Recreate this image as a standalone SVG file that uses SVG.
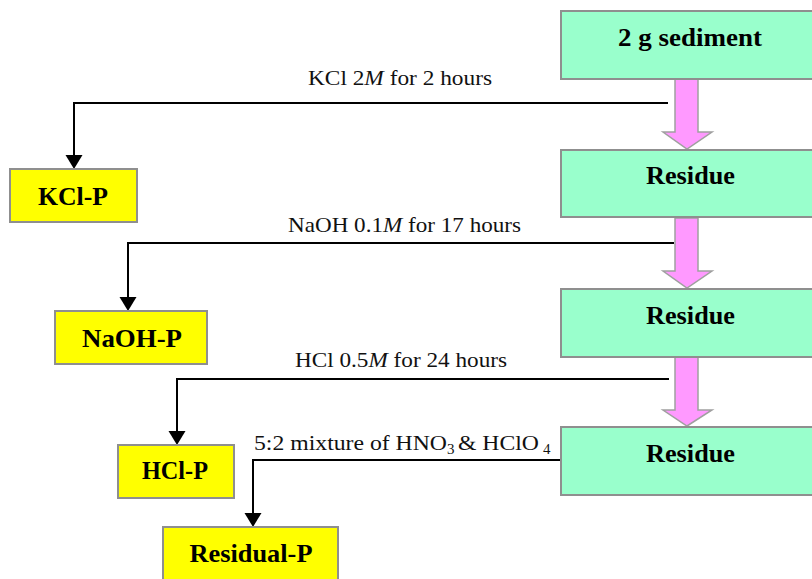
<svg xmlns="http://www.w3.org/2000/svg" width="812" height="579" viewBox="0 0 812 579">
<defs>
<style>
.g{fill:#99FFCC;stroke:#8f8f8f;stroke-width:2}
.y{fill:#FFFF00;stroke:#8f8f8f;stroke-width:2}
.pk{fill:#FF99FF;stroke:#a0a0a0;stroke-width:1.5}
.b{font-family:'Liberation Serif','Tinos','Nimbus Roman','DejaVu Serif',serif;font-weight:bold;font-size:25px;fill:#000;text-anchor:middle}
.t{font-family:'Liberation Serif','Tinos','Nimbus Roman','DejaVu Serif',serif;font-size:22px;fill:#111}
.c{fill:none;stroke:#000;stroke-width:2}
</style>
</defs>
<rect width="812" height="579" fill="#fff"/>

<g id="connectors">
<path class="c" d="M668,103 H74 V156"/>
<path d="M65.5,155 L82.5,155 L74,169 Z" fill="#000"/>
<path class="c" d="M674,243 H128 V298"/>
<path d="M119.5,297 L136.5,297 L128,311 Z" fill="#000"/>
<path class="c" d="M669,379 H177 V432"/>
<path d="M168.5,431 L185.5,431 L177,445 Z" fill="#000"/>
<path class="c" d="M561,460 H253 V514"/>
<path d="M244.5,513 L261.5,513 L253,527 Z" fill="#000"/>
<path class="pk" d="M675,79 H698 V132 H712 L687,149 L663,132 H675 Z"/>
<path class="pk" d="M675,218 H698 V271 H712 L687,288 L663,271 H675 Z"/>
<path class="pk" d="M675,357 H698 V410 H712 L687,426 L663,410 H675 Z"/>
</g>

<g id="labels">
<text class="t" x="308" y="85" textLength="184" lengthAdjust="spacingAndGlyphs">KCl 2<tspan font-style="italic">M</tspan> for 2 hours</text>
<text class="t" x="288" y="232" textLength="233" lengthAdjust="spacingAndGlyphs">NaOH 0.1<tspan font-style="italic">M</tspan> for 17 hours</text>
<text class="t" x="295" y="367" textLength="212" lengthAdjust="spacingAndGlyphs">HCl 0.5<tspan font-style="italic">M</tspan> for 24 hours</text>
<text class="t" x="254" y="450"><tspan x="254" textLength="193" lengthAdjust="spacingAndGlyphs">5:2 mixture of HNO</tspan><tspan x="447" y="454" font-size="15">3</tspan><tspan x="458" y="450" textLength="81" lengthAdjust="spacingAndGlyphs">&amp; HClO</tspan><tspan x="543" y="454" font-size="15">4</tspan></text>
</g>

<g id="n-sediment">
<rect class="g" x="561" y="11" width="270" height="68"/>
<text class="b" x="690" y="46" textLength="144" lengthAdjust="spacingAndGlyphs">2 g sediment</text>
</g>
<g id="n-residue1">
<rect class="g" x="561" y="150" width="270" height="67"/>
<text class="b" x="690.5" y="184" textLength="89" lengthAdjust="spacingAndGlyphs">Residue</text>
</g>
<g id="n-residue2">
<rect class="g" x="561" y="289" width="270" height="68"/>
<text class="b" x="690.5" y="324" textLength="89" lengthAdjust="spacingAndGlyphs">Residue</text>
</g>
<g id="n-residue3">
<rect class="g" x="561" y="427" width="270" height="68"/>
<text class="b" x="690.5" y="462" textLength="89" lengthAdjust="spacingAndGlyphs">Residue</text>
</g>
<g id="n-kclp">
<rect class="y" x="10" y="169" width="127" height="53"/>
<text class="b" x="73" y="205" textLength="70" lengthAdjust="spacingAndGlyphs">KCl-P</text>
</g>
<g id="n-naohp">
<rect class="y" x="55" y="311" width="152" height="53"/>
<text class="b" x="132" y="347" textLength="100" lengthAdjust="spacingAndGlyphs">NaOH-P</text>
</g>
<g id="n-hclp">
<rect class="y" x="118" y="445" width="116" height="53"/>
<text class="b" x="175" y="479" textLength="66" lengthAdjust="spacingAndGlyphs">HCl-P</text>
</g>
<g id="n-residualp">
<rect class="y" x="163" y="527" width="175" height="60"/>
<text class="b" x="251" y="562" textLength="123" lengthAdjust="spacingAndGlyphs">Residual-P</text>
</g>
</svg>
